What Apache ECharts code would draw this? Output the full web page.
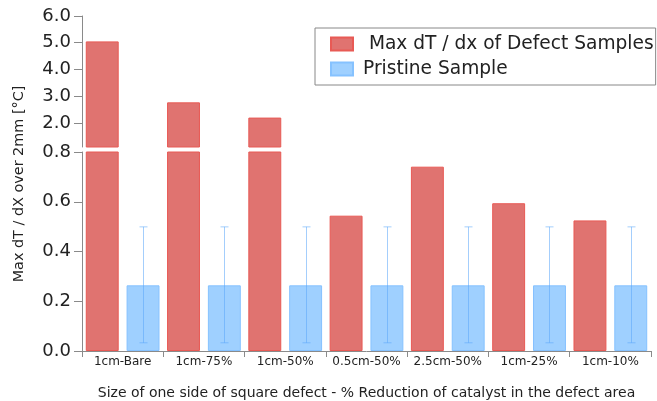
<!DOCTYPE html>
<html><head><meta charset="utf-8">
<script src="https://cdn.jsdelivr.net/npm/echarts@6/dist/echarts.min.js"></script>
<style>html,body{margin:0;padding:0;background:#fff}#c{width:657px;height:401px}</style>
</head><body><div id="c"></div>
<script>
const categories = ['1cm-Bare','1cm-75%','1cm-50%','0.5cm-50%','2.5cm-50%','1cm-25%','1cm-10%'];
const defectValues = [5.05, 2.77, 2.2, 0.544, 0.741, 0.594, 0.525];
const pristineValues = [0.264, 0.264, 0.264, 0.264, 0.264, 0.264, 0.264];
const pristineErrLow = [0.033, 0.033, 0.033, 0.033, 0.033, 0.033, 0.033];
const pristineErrHigh = [0.499, 0.499, 0.499, 0.499, 0.499, 0.499, 0.499];
const upperTicks = [2, 3, 4, 5, 6];
const lowerTicks = [0, 0.2, 0.4, 0.6, 0.8];
const nameDefect = ' Max dT / dx of Defect Samples';
const namePristine = 'Pristine Sample';

const FONT = 'DejaVu Sans';
const AX = '#8a8a8a';
const RED = '#e07370', RED_B = '#e85a55';
const BLUE = '#9fd0ff', BLUE_B = '#86c2ff', ERR = 'rgba(90,165,250,0.55)';
const BAR_W = '40.5%', BAR_GAP = '24%';

const chart = echarts.init(document.getElementById('c'), null, {renderer: 'canvas'});

const upperBreakMin = 1.1;
const yLabel = {fontFamily: FONT, fontSize: 18, color: '#222', margin: 11, formatter: v => v.toFixed(1)};

const option = {
  animation: false,
  textStyle: {fontFamily: FONT},
  grid: [
    {left: 82, right: 6, top: 16, height: 131},
    {left: 82, right: 6, top: 152, height: 199}
  ],
  legend: {
    orient: 'vertical', left: 315, top: 28,
    data: [nameDefect, namePristine],
    icon: 'rect',
    itemWidth: 22, itemHeight: 13, itemGap: 6,
    padding: [6.5, 2, 6.5, 15],
    borderColor: '#888', borderWidth: 1,
    textStyle: {fontFamily: FONT, fontSize: 18.6, lineHeight: 18, color: '#222', padding: [0, 0, 0, 5]},
    selectedMode: false
  },
  xAxis: [
    {type: 'category', gridIndex: 0, data: categories, show: false},
    {type: 'category', gridIndex: 1, data: categories,
     axisLine: {lineStyle: {color: AX, width: 1}},
     axisTick: {show: true, length: 6, lineStyle: {color: AX}},
     axisLabel: {fontFamily: FONT, fontSize: 12, color: '#222', margin: 5, interval: 0},
     name: 'Size of one side of square defect - % Reduction of catalyst in the defect area',
     nameLocation: 'middle', nameGap: 35,
     nameTextStyle: {fontFamily: FONT, fontSize: 14, color: '#222'}}
  ],
  yAxis: [
    {type: 'value', gridIndex: 0, min: upperBreakMin, max: 6,
     splitLine: {show: false},
     axisLine: {show: true, lineStyle: {color: AX}},
     axisTick: {show: true, length: 8, lineStyle: {color: AX}, customValues: upperTicks},
     axisLabel: Object.assign({}, yLabel, {customValues: upperTicks})},
    {type: 'value', gridIndex: 1, min: 0, max: 0.8, interval: 0.2,
     splitLine: {show: false},
     axisLine: {show: true, lineStyle: {color: AX}},
     axisTick: {show: true, length: 8, lineStyle: {color: AX}},
     axisLabel: yLabel}
  ],
  graphic: [
    {type: 'text', x: 19, y: 184, rotation: Math.PI / 2,
     style: {text: 'Max dT / dX over 2mm [°C]', fontFamily: FONT, fontSize: 14.4, fill: '#222',
             textAlign: 'center', textVerticalAlign: 'middle'}}
  ],
  series: [
    {name: nameDefect, type: 'bar', xAxisIndex: 0, yAxisIndex: 0,
     data: defectValues.map(v => v > upperBreakMin ? v : '-'),
     barWidth: BAR_W, barGap: BAR_GAP,
     itemStyle: {color: RED, borderColor: RED_B, borderWidth: 1}},
    {name: namePristine, type: 'bar', xAxisIndex: 0, yAxisIndex: 0,
     data: pristineValues.map(v => v > upperBreakMin ? v : '-'),
     barWidth: BAR_W, barGap: BAR_GAP,
     itemStyle: {color: BLUE, borderColor: BLUE_B, borderWidth: 1}},
    {name: nameDefect, type: 'bar', xAxisIndex: 1, yAxisIndex: 1,
     data: defectValues, clip: true,
     barWidth: BAR_W, barGap: BAR_GAP,
     itemStyle: {color: RED, borderColor: RED_B, borderWidth: 1}},
    {name: namePristine, type: 'bar', xAxisIndex: 1, yAxisIndex: 1,
     data: pristineValues,
     barWidth: BAR_W, barGap: BAR_GAP,
     itemStyle: {color: BLUE, borderColor: BLUE_B, borderWidth: 1}},
    {type: 'custom', xAxisIndex: 1, yAxisIndex: 1, z: 5,
     data: categories.map((c, i) => [i, pristineErrLow[i], pristineErrHigh[i]]),
     renderItem: function (params, api) {
       const band = api.size([1, 0])[0];
       const off = band * (0.405 + 0.405 * 0.24) / 2;
       const lo = api.coord([api.value(0), api.value(1)]);
       const hi = api.coord([api.value(0), api.value(2)]);
       const x = Math.round(lo[0] + off) + 0.5, cap = 4;
       const st = {stroke: ERR, lineWidth: 1};
       return {type: 'group', children: [
         {type: 'line', shape: {x1: x, y1: lo[1], x2: x, y2: hi[1]}, style: st},
         {type: 'line', shape: {x1: x - cap, y1: hi[1], x2: x + cap, y2: hi[1]}, style: st},
         {type: 'line', shape: {x1: x - cap, y1: lo[1], x2: x + cap, y2: lo[1]}, style: st}
       ]};
     }}
  ]
};
chart.setOption(option);
</script></body></html>
